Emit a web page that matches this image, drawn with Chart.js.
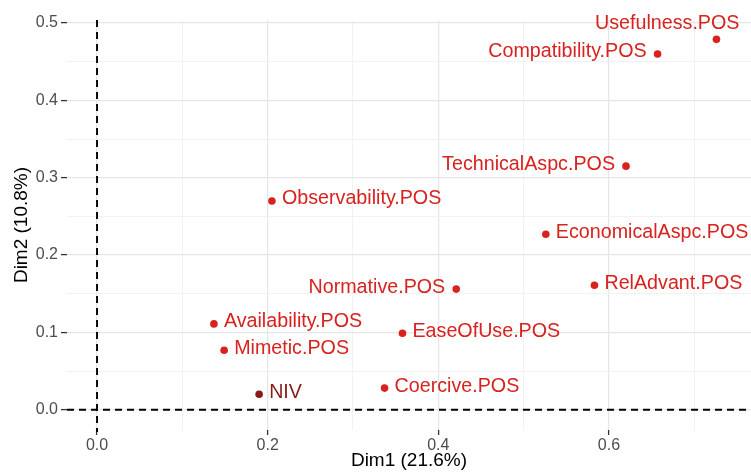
<!DOCTYPE html>
<html>
<head>
<meta charset="utf-8">
<script src="https://cdn.jsdelivr.net/npm/chart.js@4/dist/chart.umd.min.js"></script>
<style>
  html, body { margin: 0; padding: 0; background: #ffffff; }
  #wrap { width: 751px; height: 473px; }
</style>
</head>
<body>
<div id="wrap"><canvas id="c" width="751" height="473"></canvas></div>
<script>
// ---- data ----
const categories = ['Usefulness.POS','Compatibility.POS','TechnicalAspc.POS','Observability.POS','EconomicalAspc.POS','Normative.POS','RelAdvant.POS','Availability.POS','EaseOfUse.POS','Mimetic.POS','Coercive.POS','NIV'];
const dim1 = [0.726, 0.657, 0.620, 0.205, 0.526, 0.421, 0.583, 0.137, 0.358, 0.149, 0.337, 0.190];
const dim2 = [0.479, 0.460, 0.315, 0.270, 0.227, 0.156, 0.161, 0.111, 0.099, 0.077, 0.028, 0.020];
const groups = ['POS','POS','POS','POS','POS','POS','POS','POS','POS','POS','POS','NIV'];
const xTicks = [0, 0.1, 0.2, 0.3, 0.4, 0.5, 0.6, 0.7];
const yTicks = [0, 0.05, 0.1, 0.15, 0.2, 0.25, 0.3, 0.35, 0.4, 0.45, 0.5];
const xTitle = 'Dim1 (21.6%)';
const yTitle = 'Dim2 (10.8%)';

// ---- styling ----
const groupColor = { POS: '#d7221f', NIV: '#8b1a1a' };
// label placement (repel-like): which side of the point
const labelSide = ['aboveLeft','left','left','right','right','left','right','right','right','right','right','right'];

const FONT = "'Liberation Sans', Arial, sans-serif";

const isMajorX = v => Math.abs(Math.round(v * 10) % 2) === 0;
const isMajorY = v => Math.abs(Math.round(v * 100) % 10) === 0;

const refLines = {
  id: 'refLines',
  beforeDatasetsDraw(chart) {
    const { ctx, chartArea, scales } = chart;
    const x0 = scales.x.getPixelForValue(0);
    const y0 = scales.y.getPixelForValue(0);
    ctx.save();
    ctx.strokeStyle = '#000';
    ctx.lineWidth = 1.9;
    ctx.setLineDash([7, 5]);
    ctx.beginPath();
    ctx.moveTo(x0, chartArea.top);
    ctx.lineTo(x0, chartArea.bottom + 2);
    ctx.stroke();
    ctx.beginPath();
    ctx.moveTo(chartArea.left, y0);
    ctx.lineTo(chartArea.right, y0);
    ctx.stroke();
    ctx.restore();
  }
};

const pointLabels = {
  id: 'pointLabels',
  afterDatasetsDraw(chart) {
    const { ctx, scales } = chart;
    ctx.save();
    ctx.font = '19.7px ' + FONT;
    ctx.textBaseline = 'middle';
    categories.forEach((name, i) => {
      const px = scales.x.getPixelForValue(dim1[i]);
      const py = scales.y.getPixelForValue(dim2[i]);
      ctx.fillStyle = groupColor[groups[i]];
      const side = labelSide[i];
      if (side === 'right') {
        ctx.textAlign = 'left';
        ctx.fillText(name, px + 10, py - 2);
      } else if (side === 'left') {
        ctx.textAlign = 'right';
        ctx.fillText(name, px - 11, py - 2);
      } else {
        ctx.textAlign = 'right';
        ctx.fillText(name, px + 23, py - 16);
      }
    });
    ctx.restore();
  }
};

new Chart(document.getElementById('c'), {
  type: 'scatter',
  data: {
    datasets: [{
      data: dim1.map((x, i) => ({ x: x, y: dim2[i] })),
      backgroundColor: groups.map(g => groupColor[g]),
      borderColor: groups.map(g => groupColor[g]),
      pointRadius: 3.8,
      pointHoverRadius: 3.8,
      borderWidth: 0,
      clip: false
    }]
  },
  options: {
    responsive: false,
    animation: false,
    events: [],
    layout: { autoPadding: false, padding: { top: 20, right: 0, left: 0, bottom: 0 } },
    plugins: { legend: { display: false }, tooltip: { enabled: false } },
    scales: {
      x: {
        type: 'linear',
        min: -0.0352,
        max: 0.7665,
        afterBuildTicks: s => { s.ticks = xTicks.map(v => ({ value: v })); },
        afterFit: s => { s.height = 43; s.paddingLeft = 0; s.paddingRight = 0; },
        border: { display: false },
        grid: {
          color: c => isMajorX(c.tick.value) ? '#e6e6e6' : '#f1f1f1',
          lineWidth: c => isMajorX(c.tick.value) ? 1.2 : 0.9,
          tickColor: c => isMajorX(c.tick.value) ? '#333333' : 'rgba(0,0,0,0)',
          tickLength: 5,
          tickWidth: 1.3,
          drawTicks: true
        },
        ticks: {
          autoSkip: false,
          maxRotation: 0,
          padding: 1,
          color: '#4d4d4d',
          font: { family: FONT, size: 16 },
          callback: v => isMajorX(v) ? v.toFixed(1) : ''
        },
        title: {
          display: true,
          text: xTitle,
          color: '#000',
          font: { family: FONT, size: 19 },
          padding: { top: 0, bottom: 1 }
        }
      },
      y: {
        type: 'linear',
        min: -0.0262,
        max: 0.504,
        afterBuildTicks: s => { s.ticks = yTicks.map(v => ({ value: v })); },
        afterFit: s => { s.width = 67; s.paddingTop = 0; s.paddingBottom = 0; },
        border: { display: false },
        grid: {
          color: c => isMajorY(c.tick.value) ? '#e6e6e6' : '#f1f1f1',
          lineWidth: c => isMajorY(c.tick.value) ? 1.2 : 0.9,
          tickColor: c => isMajorY(c.tick.value) ? '#333333' : 'rgba(0,0,0,0)',
          tickLength: 6,
          tickWidth: 1.3,
          drawTicks: true
        },
        ticks: {
          autoSkip: false,
          padding: 3,
          color: '#4d4d4d',
          font: { family: FONT, size: 16 },
          callback: v => isMajorY(v) ? v.toFixed(1) : ''
        },
        title: {
          display: true,
          text: yTitle,
          color: '#000',
          font: { family: FONT, size: 19 },
          padding: { top: 10, bottom: 0 }
        }
      }
    }
  },
  plugins: [refLines, pointLabels]
});
</script>
</body>
</html>
